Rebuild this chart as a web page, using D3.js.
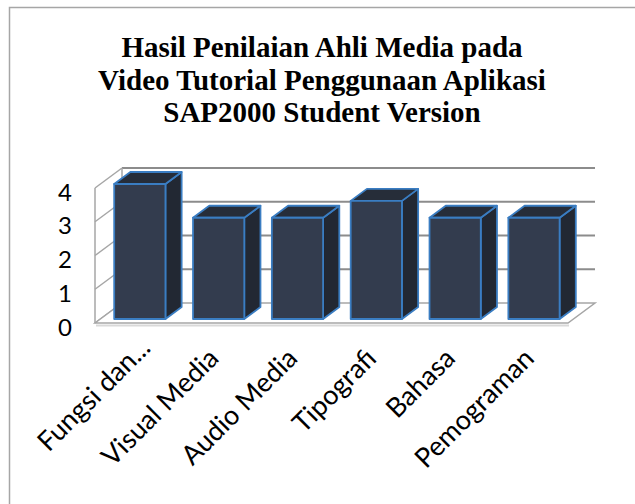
<!DOCTYPE html>
<html>
<head>
<meta charset="utf-8">
<script src="https://cdn.jsdelivr.net/npm/d3@7"></script>
<style>
  html, body { margin: 0; padding: 0; background: #fff; }
  svg { display: block; }
</style>
</head>
<body>
<div id="chart"></div>
<script>
// data
var categories = ["Fungsi dan...", "Visual Media", "Audio Media", "Tipografi", "Bahasa", "Pemograman"];
var values = [4, 3, 3, 3.5, 3, 3];
var yTicks = [0, 1, 2, 3, 4];
var titleLines = ["Hasil Penilaian Ahli Media pada", "Video Tutorial Penggunaan Aplikasi", "SAP2000 Student Version"];

var width = 635, height = 504;

var svg = d3.select("#chart").append("svg")
    .attr("width", width)
    .attr("height", height);

// chart frame (only left/top edges fall inside the picture)
svg.append("rect")
    .attr("x", 9.5).attr("y", 7.5)
    .attr("width", 700).attr("height", 600)
    .attr("fill", "none")
    .attr("stroke", "#a6a6a6")
    .attr("stroke-width", 1.5);

// title
svg.append("text")
    .attr("x", 322)
    .attr("y", 57)
    .attr("text-anchor", "middle")
    .style("font-family", "'Liberation Serif', 'DejaVu Serif', serif")
    .style("font-weight", "bold")
    .style("font-size", "29px")
    .attr("fill", "#000")
    .selectAll("tspan")
    .data(titleLines)
    .enter()
    .append("tspan")
    .attr("x", 322)
    .attr("dy", function (d, i) { return i == 0 ? 0 : 32.5; })
    .text(function (d) { return d; });

// scales (front plane of the 3D box)
var x = d3.scaleBand()
    .domain(categories)
    .range([95, 568])
    .paddingInner(0.35)
    .paddingOuter(0.175);

var y = d3.scaleLinear()
    .domain([0, 4])
    .range([323, 188]);

// depth vector of the oblique projection
var depth = { dx: 27, dy: -20 };
function P(px, py, d) {
    return [px + depth.dx * d, py + depth.dy * d];
}
function poly(pts) {
    return pts.map(function (p) { return p[0] + "," + p[1]; }).join(" ");
}

var x0 = x.range()[0], x1 = x.range()[1];
var gridColor = "#8c8c8c";

// back wall gridlines
svg.append("g").selectAll("line")
    .data(yTicks.slice(1))
    .enter()
    .append("line")
    .attr("x1", P(x0, 0, 1)[0])
    .attr("x2", P(x1, 0, 1)[0])
    .attr("y1", function (d) { return P(0, y(d), 1)[1]; })
    .attr("y2", function (d) { return P(0, y(d), 1)[1]; })
    .attr("stroke", gridColor)
    .attr("stroke-width", 2);

// left wall
var lw = svg.append("g");
lw.selectAll("line.diag")
    .data(yTicks)
    .enter()
    .append("line")
    .attr("class", "diag")
    .attr("x1", x0)
    .attr("y1", function (d) { return y(d); })
    .attr("x2", P(x0, 0, 1)[0])
    .attr("y2", function (d) { return P(x0, y(d), 1)[1]; })
    .attr("stroke", "#a6a6a6")
    .attr("stroke-width", 1.5);
lw.append("line")
    .attr("x1", x0).attr("x2", x0)
    .attr("y1", y(0)).attr("y2", y(4))
    .attr("stroke", "#a6a6a6")
    .attr("stroke-width", 1.5);
lw.append("line")
    .attr("x1", P(x0, 0, 1)[0]).attr("x2", P(x0, 0, 1)[0])
    .attr("y1", P(0, y(0), 1)[1]).attr("y2", P(0, y(4), 1)[1])
    .attr("stroke", "#a6a6a6")
    .attr("stroke-width", 1.5);

// floor with a soft shadow
svg.append("line")
    .attr("x1", x0 + 1).attr("x2", x1 + 1)
    .attr("y1", y(0) + 2.5).attr("y2", y(0) + 2.5)
    .attr("stroke", "#d9d9d9")
    .attr("stroke-width", 2);
svg.append("polygon")
    .attr("points", poly([P(x0, y(0), 0), P(x1, y(0), 0), P(x1, y(0), 1), P(x0, y(0), 1)]))
    .attr("fill", "#fff")
    .attr("stroke", "#a6a6a6")
    .attr("stroke-width", 1.5);

// y axis labels
svg.append("g").selectAll("text")
    .data(yTicks)
    .enter()
    .append("text")
    .attr("x", 65)
    .attr("y", function (d) { return y(d) + 3; })
    .attr("text-anchor", "middle")
    .attr("dominant-baseline", "central")
    .style("font-family", "Lato, 'Open Sans', sans-serif")
    .style("font-size", "24px")
    .text(function (d) { return d; });

// 3D bars
var d0 = 0.2, d1 = 0.8;
var bars = svg.append("g").selectAll("g")
    .data(categories)
    .enter()
    .append("g");
var stroke = "#3a7dc2";

bars.append("polygon") // side
    .attr("points", function (c, i) {
        var xr = x(c) + x.bandwidth(), yt = y(values[i]), yb = y(0);
        return poly([P(xr, yb, d0), P(xr, yt, d0), P(xr, yt, d1), P(xr, yb, d1)]);
    })
    .attr("fill", "#222833")
    .attr("stroke", stroke)
    .attr("stroke-width", 1.8)
    .attr("stroke-linejoin", "round");
bars.append("polygon") // top
    .attr("points", function (c, i) {
        var xl = x(c), xr = x(c) + x.bandwidth(), yt = y(values[i]);
        return poly([P(xl, yt, d0), P(xr, yt, d0), P(xr, yt, d1), P(xl, yt, d1)]);
    })
    .attr("fill", "#262d39")
    .attr("stroke", stroke)
    .attr("stroke-width", 1.8)
    .attr("stroke-linejoin", "round");
bars.append("polygon") // front
    .attr("points", function (c, i) {
        var xl = x(c), xr = x(c) + x.bandwidth(), yt = y(values[i]), yb = y(0);
        return poly([P(xl, yb, d0), P(xr, yb, d0), P(xr, yt, d0), P(xl, yt, d0)]);
    })
    .attr("fill", "#333c4e")
    .attr("stroke", stroke)
    .attr("stroke-width", 1.8)
    .attr("stroke-linejoin", "round");

// x axis labels, rotated; the truncated first label sits a little further along
svg.append("g").selectAll("text")
    .data(categories)
    .enter()
    .append("text")
    .attr("transform", function (c, i) {
        var shift = i == 0 ? 15 : 0;
        return "translate(" + (x(c) + x.bandwidth() / 2 + 7) + "," + 360 + ") rotate(-45) translate(" + shift + ",0)";
    })
    .attr("text-anchor", "end")
    .style("font-family", "Lato, 'Open Sans', sans-serif")
    .style("font-size", "27px")
    .text(function (c) { return c; });
</script>
</body>
</html>
